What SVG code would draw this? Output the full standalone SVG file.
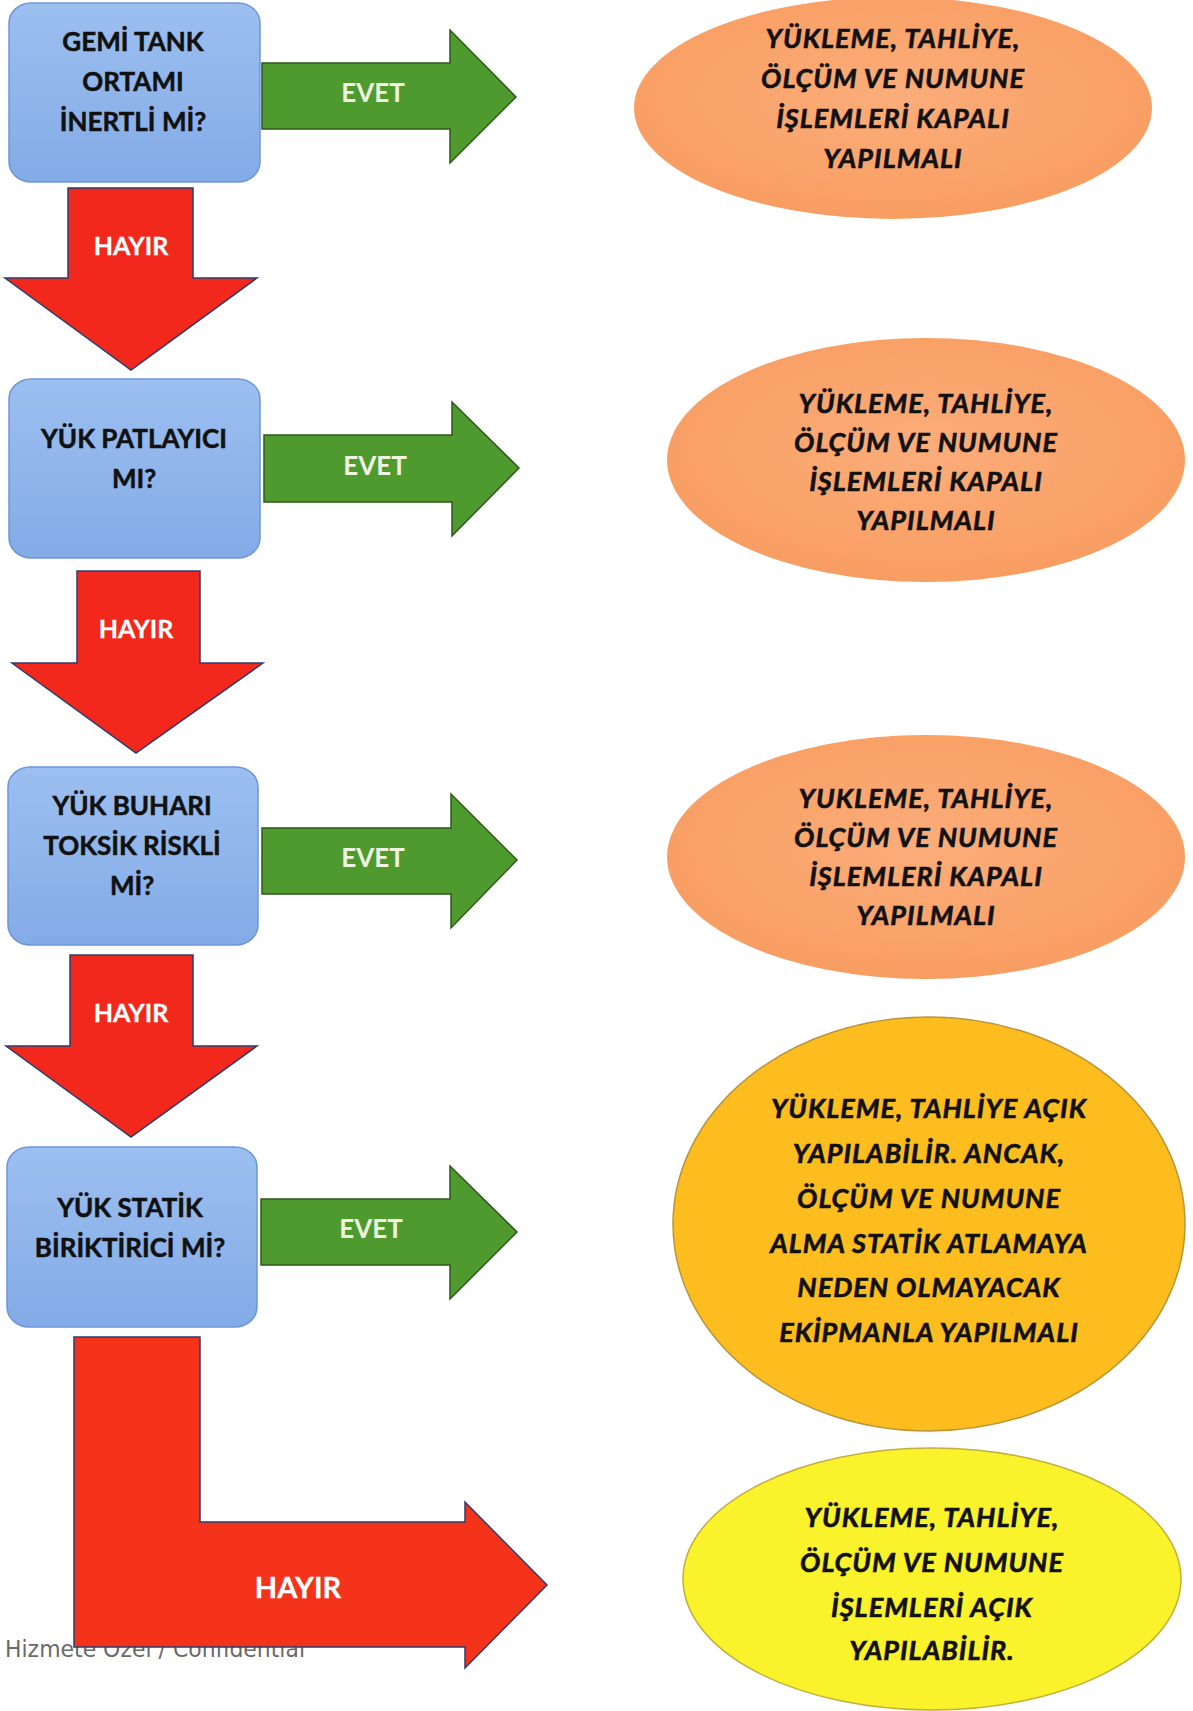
<svg xmlns="http://www.w3.org/2000/svg" width="1193" height="1711" viewBox="0 0 1193 1711">
<defs>
<linearGradient id="gBox" x1="0" y1="0" x2="0" y2="1">
<stop offset="0" stop-color="#9CBFF0"/>
<stop offset="1" stop-color="#83ABE6"/>
</linearGradient>
<radialGradient id="gOr" cx="0.5" cy="0.45" r="0.6">
<stop offset="0" stop-color="#FCAD7A"/>
<stop offset="1" stop-color="#F89C60"/>
</radialGradient>
<style>
.box{fill:url(#gBox);stroke:#6E96D8;stroke-width:1.5}
.green{fill:#4F9A2E;stroke:#2C5A1B;stroke-width:1.5;stroke-linejoin:miter}
.red{fill:#F2281C;stroke:#2E3C6C;stroke-width:1.5;stroke-linejoin:miter}
.redL{fill:#F5331B;stroke:#2E3C6C;stroke-width:1.5;stroke-linejoin:miter}
.oval{fill:url(#gOr)}
.amber{fill:#FDBD1F;stroke:#B9953A;stroke-width:1.5}
.yellow{fill:#FAF22A;stroke:#C4AE3C;stroke-width:1.5}
.q{font-family:Lato,"Open Sans","Liberation Sans",sans-serif;font-weight:bold;font-size:26px;fill:#111;stroke:#111;stroke-width:0.5;text-anchor:middle}
.a{font-family:Lato,"Open Sans","Liberation Sans",sans-serif;font-weight:bold;font-style:italic;font-size:27px;letter-spacing:1px;fill:#111;stroke:#111;stroke-width:0.6;text-anchor:middle}
.evet{font-family:Lato,"Open Sans","Liberation Sans",sans-serif;font-weight:bold;font-size:26px;fill:#EEF5E0;text-anchor:middle}
.hayir{font-family:Lato,"Open Sans","Liberation Sans",sans-serif;font-weight:bold;font-size:25px;fill:#FFFFFF;stroke:#FFFFFF;stroke-width:0.3;text-anchor:middle}
.foot{font-family:"DejaVu Sans","Liberation Sans",sans-serif;font-size:23px;fill:#6A6A6A}
</style>
</defs>
<rect width="1193" height="1711" fill="#FFFFFF"/>

<text class="foot" x="5" y="1657" textLength="300" lengthAdjust="spacingAndGlyphs">Hizmete Özel / Confidential</text>

<g id="connectors">
<path class="green" d="M262,63 H450 V30 L516,97 L450,163 V129 H262 Z"/>
<text class="evet" x="373" y="102">EVET</text>
<path class="red" d="M68,188 H193 V278 H257 L131,370 L5,278 H68 Z"/>
<text class="hayir" x="131" y="255">HAYIR</text>

<path class="green" d="M264,435 H452 V402 L519,468 L452,536 V502 H264 Z"/>
<text class="evet" x="375" y="475">EVET</text>
<path class="red" d="M77,571 H200 V663 H263 L136,753 L12,663 H77 Z"/>
<text class="hayir" x="136" y="638">HAYIR</text>

<path class="green" d="M262,828 H451 V794 L517,860 L451,928 V894 H262 Z"/>
<text class="evet" x="373" y="867">EVET</text>
<path class="red" d="M70,955 H193 V1046 H257 L131,1137 L6,1046 H70 Z"/>
<text class="hayir" x="131" y="1022">HAYIR</text>

<path class="green" d="M261,1199 H450 V1166 L517,1232 L450,1299 V1265 H261 Z"/>
<text class="evet" x="371" y="1238">EVET</text>
<path class="redL" d="M74,1337 H200 V1522 H465 V1502 L547,1585 L465,1668 V1647 H74 Z"/>
<text class="hayir" x="298" y="1598" style="font-size:29px">HAYIR</text>
</g>

<g id="q1">
<rect class="box" x="9" y="3" width="251" height="179" rx="22" ry="20"/>
<text class="q" x="133" y="51">GEMİ TANK</text>
<text class="q" x="133" y="91">ORTAMI</text>
<text class="q" x="133" y="131">İNERTLİ Mİ?</text>
</g>
<g id="q2">
<rect class="box" x="9" y="379" width="251" height="179" rx="22" ry="20"/>
<text class="q" x="134" y="448">YÜK PATLAYICI</text>
<text class="q" x="134" y="488">MI?</text>
</g>
<g id="q3">
<rect class="box" x="8" y="767" width="250" height="178" rx="22" ry="20"/>
<text class="q" x="132" y="815">YÜK BUHARI</text>
<text class="q" x="132" y="855">TOKSİK RİSKLİ</text>
<text class="q" x="132" y="895">Mİ?</text>
</g>
<g id="q4">
<rect class="box" x="7" y="1147" width="250" height="180" rx="22" ry="20"/>
<text class="q" x="130" y="1217">YÜK STATİK</text>
<text class="q" x="130" y="1257">BİRİKTİRİCİ Mİ?</text>
</g>

<g id="r1">
<ellipse class="oval" cx="893" cy="108" rx="259" ry="111"/>
<text class="a" x="893" y="48">YÜKLEME, TAHLİYE,</text>
<text class="a" x="893" y="88">ÖLÇÜM VE NUMUNE</text>
<text class="a" x="893" y="128">İŞLEMLERİ KAPALI</text>
<text class="a" x="893" y="168">YAPILMALI</text>
</g>
<g id="r2">
<ellipse class="oval" cx="926" cy="460" rx="259" ry="122"/>
<text class="a" x="926" y="413">YÜKLEME, TAHLİYE,</text>
<text class="a" x="926" y="452">ÖLÇÜM VE NUMUNE</text>
<text class="a" x="926" y="491">İŞLEMLERİ KAPALI</text>
<text class="a" x="926" y="530">YAPILMALI</text>
</g>
<g id="r3">
<ellipse class="oval" cx="926" cy="857" rx="259" ry="122"/>
<text class="a" x="926" y="808">YUKLEME, TAHLİYE,</text>
<text class="a" x="926" y="847">ÖLÇÜM VE NUMUNE</text>
<text class="a" x="926" y="886">İŞLEMLERİ KAPALI</text>
<text class="a" x="926" y="925">YAPILMALI</text>
</g>
<g id="r4">
<ellipse class="amber" cx="929" cy="1224" rx="256" ry="207"/>
<text class="a" x="929" y="1118">YÜKLEME, TAHLİYE AÇIK</text>
<text class="a" x="929" y="1163">YAPILABİLİR. ANCAK,</text>
<text class="a" x="929" y="1208">ÖLÇÜM VE NUMUNE</text>
<text class="a" x="929" y="1253">ALMA STATİK ATLAMAYA</text>
<text class="a" x="929" y="1297">NEDEN OLMAYACAK</text>
<text class="a" x="929" y="1342">EKİPMANLA YAPILMALI</text>
</g>
<g id="r5">
<ellipse class="yellow" cx="932" cy="1579" rx="249" ry="131"/>
<text class="a" x="932" y="1527">YÜKLEME, TAHLİYE,</text>
<text class="a" x="932" y="1572">ÖLÇÜM VE NUMUNE</text>
<text class="a" x="932" y="1617">İŞLEMLERİ AÇIK</text>
<text class="a" x="932" y="1660">YAPILABİLİR.</text>
</g>
</svg>
